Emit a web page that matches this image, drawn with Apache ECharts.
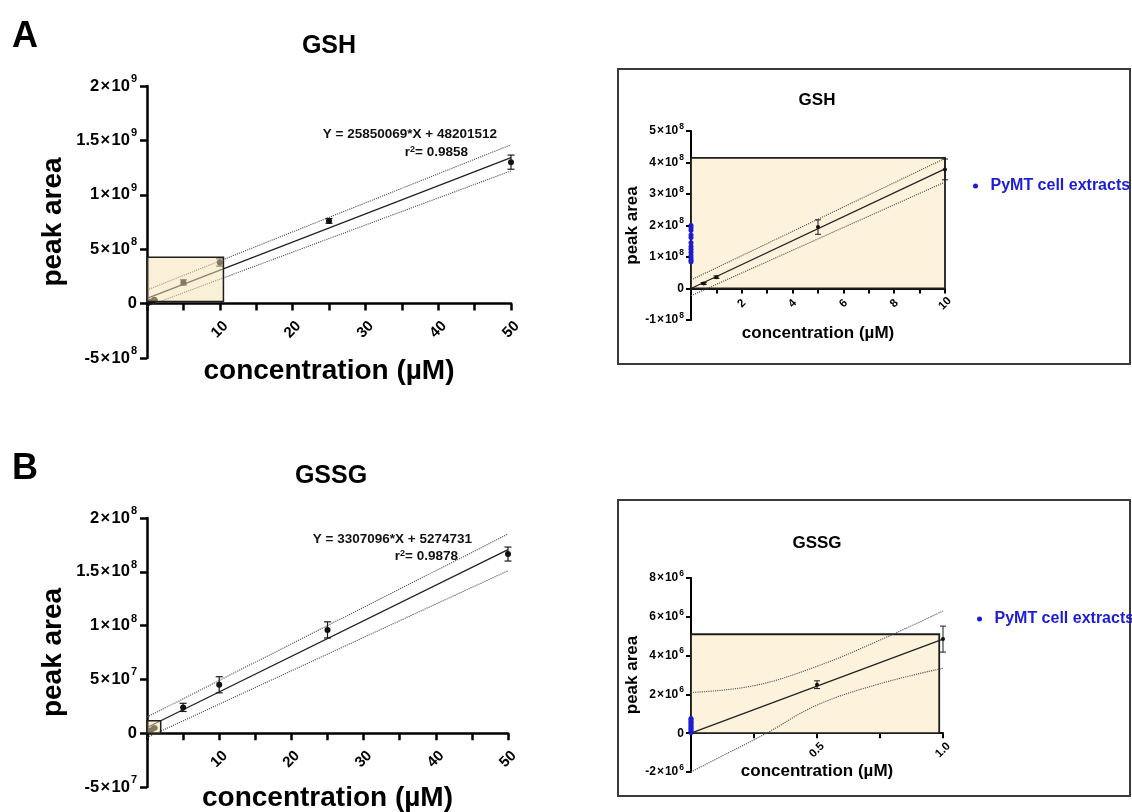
<!DOCTYPE html>
<html>
<head>
<meta charset="utf-8">
<script src="https://cdn.jsdelivr.net/npm/echarts@6/dist/echarts.min.js"></script>
<style>
  html, body { margin: 0; padding: 0; background: #fff; }
  #chart { width: 1132px; height: 812px; }
</style>
</head>
<body>
<div id="chart"></div>
<script>
// ---- GSH standard curve ----
const gshConc = [0.5, 1, 5, 10, 25, 50];
const gshArea = [1.6e7, 3.6e7, 1.95e8, 3.78e8, 7.6e8, 1.30e9];
const gshSd   = [0.3e7, 0.4e7, 2.3e7, 3.3e7, 2.2e7, 6.5e7];
const gshFit    = [[0, 48201512], [50, 1340704962]];      // Y = 25850069*X + 48201512
const gshBandHi = [[0, 1.25e8], [50, 1.46e9]];
const gshBandLo = [[0, -2.5e7], [50, 1.22e9]];
const gshLowFit    = [[0, 0], [10, 3.8e8]];
const gshLowBandHi = [[0, 2.7e7], [10, 4.13e8]];
const gshLowBandLo = [[0, -2.3e7], [10, 3.38e8]];
const gshCells = [2.0e8, 1.93e8, 1.85e8, 1.7e8, 1.62e8, 1.45e8, 1.33e8, 1.25e8, 1.15e8, 1.05e8, 0.97e8, 0.9e8, 0.85e8];
const gshZoomBox  = [[0, 2e7], [10.5, 4.25e8]];
const gshInsetBox = [[0, 0], [10, 4.15e8]];
const gshEquation = 'Y = 25850069*X + 48201512';
const gshR2 = '0.9858';

// ---- GSSG standard curve ----
const gssgConc = [0.5, 1, 5, 10, 25, 50];
const gssgArea = [2.5e6, 4.85e6, 2.4e7, 4.5e7, 9.6e7, 1.665e8];
const gssgSd   = [0.2e6, 0.67e6, 3.8e6, 7.5e6, 7.5e6, 6.5e6];
const gssgFit    = [[0, 5274731], [50, 170629531]];       // Y = 3307096*X + 5274731
const gssgBandHi = [[0, 1.5e7], [50, 1.85e8]];
const gssgBandLo = [[0, -4e6], [50, 1.51e8]];
const gssgLowFit    = [[0, 0], [1, 4.85e6]];
const gssgLowBandHi = [[0, 2.1e6], [0.25, 2.45e6], [0.5, 3.45e6], [0.75, 4.8e6], [1, 6.3e6]];
const gssgLowBandLo = [[0, -2.0e6], [0.15, -1.0e6], [0.3, 0.0], [0.5, 1.45e6], [0.75, 2.55e6], [1, 3.35e6]];
const gssgCells = [0.03e6, 0.1e6, 0.18e6, 0.25e6, 0.32e6, 0.4e6, 0.48e6, 0.55e6, 0.62e6, 0.7e6, 0.76e6];
const gssgZoomBox  = [[0, 0], [1.9, 1.15e7]];
const gssgInsetBox = [[0, 0], [0.985, 5.1e6]];
const gssgEquation = 'Y = 3307096*X + 5274731';
const gssgR2 = '0.9878';

const cellLabel = 'PyMT cell extracts';

const FONT = 'Liberation Sans, Arial, Helvetica, sans-serif';
const BLUE = '#1c1cd2';

// tick label as mantissa × 10 with a raised exponent
function sci(v) {
  if (v === 0) return '{b|0}';
  const e = Math.floor(Math.log10(Math.abs(v)) + 1e-9);
  const m = +(v / Math.pow(10, e)).toFixed(2);
  return '{b|' + m + '\u200A×\u200A10}{s|' + e + '}';
}

function points(xs, ys, maxX) {
  return xs.map((x, i) => [x, ys[i]]).filter(p => p[0] <= maxX);
}
function bars(xs, ys, sd, maxX) {
  return xs.map((x, i) => [x, ys[i] - sd[i], ys[i] + sd[i]]).filter(p => p[0] <= maxX);
}

function errorBar(capHalf, lw) {
  return function (params, api) {
    const x = api.value(0);
    const hi = api.coord([x, api.value(2)]);
    const lo = api.coord([x, api.value(1)]);
    const st = { stroke: '#1a1a1a', lineWidth: lw };
    return {
      type: 'group',
      children: [
        { type: 'line', shape: { x1: hi[0], y1: hi[1], x2: lo[0], y2: lo[1] }, style: st },
        { type: 'line', shape: { x1: hi[0] - capHalf, y1: hi[1], x2: hi[0] + capHalf, y2: hi[1] }, style: st },
        { type: 'line', shape: { x1: lo[0] - capHalf, y1: lo[1], x2: lo[0] + capHalf, y2: lo[1] }, style: st }
      ]
    };
  };
}

// The x axis sits at y = 0, lifted from the grid bottom by `lift` pixels.
function xAxis(grid, max, interval, labelFn, big, lift, nameGap, labelMargin) {
  return {
    gridIndex: grid, type: 'value', min: 0, max: max, interval: interval,
    position: 'bottom', offset: -lift,
    axisLine: { onZero: false, lineStyle: { color: '#000', width: big ? 2.5 : 2 } },
    axisTick: { length: big ? 7 : 5, lineStyle: { color: '#000', width: big ? 2.5 : 2 } },
    axisLabel: {
      interval: 0, rotate: 45, align: 'center', verticalAlign: 'middle',
      margin: labelMargin, formatter: labelFn,
      fontSize: big ? 15 : 11.5, fontWeight: 'bold', color: '#000', fontFamily: FONT
    },
    splitLine: { show: false },
    name: 'concentration (µM)', nameLocation: 'middle', nameGap: nameGap,
    nameTextStyle: { fontSize: big ? 28 : 17, fontWeight: 'bold', color: '#000', fontFamily: FONT }
  };
}

function yAxis(grid, min, max, interval, big) {
  const fs = big ? 16.5 : 12;
  const ss = big ? 11 : 8.5;
  const lift = big ? 4 : 3;
  return {
    gridIndex: grid, type: 'value', min: min, max: max, interval: interval,
    axisLine: { show: true, onZero: false, lineStyle: { color: '#000', width: big ? 2.5 : 2 } },
    axisTick: { show: true, length: big ? 7 : 5, lineStyle: { color: '#000', width: big ? 2.5 : 2 } },
    axisLabel: {
      formatter: sci, margin: big ? 10 : 7, color: '#000',
      rich: {
        b: { fontSize: fs, fontWeight: 'bold', color: '#000', fontFamily: FONT, verticalAlign: 'bottom', padding: [lift, 0, lift, 0] },
        s: { fontSize: ss, fontWeight: 'bold', color: '#000', fontFamily: FONT, verticalAlign: 'top', padding: [0, 0, 0, 1] }
      }
    },
    splitLine: { show: false },
    name: 'peak area', nameLocation: 'middle', nameRotate: 90, nameGap: big ? 80 : 50,
    nameTextStyle: { fontSize: big ? 28 : 17, fontWeight: 'bold', color: '#000', fontFamily: FONT }
  };
}

function lineSeries(idx, data, dotted, z) {
  return {
    type: 'line', xAxisIndex: idx, yAxisIndex: idx, data: data, symbol: 'none', silent: true, z: z || 3,
    lineStyle: dotted ? { color: '#4a4a4a', width: 1.1, type: 'dotted' } : { color: '#222', width: 1.3 }
  };
}

function boxArea(box, fill, overlay, bw) {
  return {
    silent: true, z: overlay ? 8 : 1,
    itemStyle: { color: fill, borderColor: '#1e1e1e', borderWidth: bw },
    data: [[{ coord: box[0] }, { coord: box[1] }]]
  };
}

function dots(idx, data, size, color, name) {
  const s = { type: 'scatter', xAxisIndex: idx, yAxisIndex: idx, data: data, symbolSize: size,
    itemStyle: { color: color, opacity: 1 }, z: name ? 6 : 5, silent: true };
  if (name) s.name = name;
  return s;
}

function errors(idx, data, cap, lw) {
  return { type: 'custom', xAxisIndex: idx, yAxisIndex: idx, renderItem: errorBar(cap, lw), data: data,
    encode: { x: 0, y: [1, 2] }, z: 4, silent: true };
}

const eqTitle = (text, x, y) => ({
  text: text, left: x, top: y, textAlign: 'right', padding: 0,
  textStyle: { fontSize: 13.5, fontWeight: 'bold', color: '#111', fontFamily: FONT,
    rich: { s: { fontSize: 9, fontWeight: 'bold', verticalAlign: 'top', color: '#111', fontFamily: FONT } } }
});
const headTitle = (text, x, y, size) => ({
  text: text, left: x, top: y, textAlign: 'center', padding: 0,
  textStyle: { fontSize: size, fontWeight: 'bold', color: '#000', fontFamily: FONT }
});
const legendAt = (x, y) => ({
  left: x, top: y, padding: 0, data: [cellLabel], icon: 'circle', itemWidth: 20, itemHeight: 5,
  selectedMode: false, textStyle: { color: BLUE, fontSize: 16, fontWeight: 'bold', fontFamily: FONT }
});

const option = {
  animation: false,
  textStyle: { fontFamily: FONT },
  title: [
    { text: 'A', left: 12, top: 19, padding: 0, textStyle: { fontSize: 36, fontWeight: 'bold', color: '#000', fontFamily: FONT } },
    { text: 'B', left: 12, top: 451, padding: 0, textStyle: { fontSize: 36, fontWeight: 'bold', color: '#000', fontFamily: FONT } },
    headTitle('GSH', 329, 34, 25),
    headTitle('GSSG', 331, 464, 25),
    headTitle('GSH', 817, 92, 17),
    headTitle('GSSG', 817, 535, 17),
    eqTitle(gshEquation, 497, 127),
    eqTitle('r{s|2}= ' + gshR2, 468, 145),
    eqTitle(gssgEquation, 472, 532),
    eqTitle('r{s|2}= ' + gssgR2, 458, 549)
  ],
  legend: [legendAt(973, 178), legendAt(977, 611)],
  graphic: [
    { type: 'rect', silent: true, shape: { x: 618, y: 69, width: 512, height: 295 }, style: { fill: 'none', stroke: '#3a3a3a', lineWidth: 2 } },
    { type: 'rect', silent: true, shape: { x: 618, y: 500, width: 512, height: 296 }, style: { fill: 'none', stroke: '#3a3a3a', lineWidth: 2 } }
  ],
  grid: [
    { left: 147, top: 86, width: 364, height: 272, outerBoundsMode: 'none' },
    { left: 691, top: 131, width: 254, height: 189, outerBoundsMode: 'none' },
    { left: 147, top: 518, width: 361, height: 269, outerBoundsMode: 'none' },
    { left: 691, top: 578, width: 252, height: 194, outerBoundsMode: 'none' }
  ],
  xAxis: [
    xAxis(0, 50, 5, v => (v > 0 && v % 10 === 0 ? String(v) : ''), true, 272 * 0.2, 54, 26),
    xAxis(1, 10, 1, v => (v > 0 && v % 2 === 0 ? String(v) : ''), false, 189 / 6, 36, 15),
    xAxis(2, 50, 5, v => (v > 0 && v % 10 === 0 ? String(v) : ''), true, 269 * 0.2, 51, 26),
    xAxis(3, 1, 0.25, v => (v === 0.5 || v === 1 ? v.toFixed(1) : ''), false, 194 * 0.2, 30, 17)
  ],
  yAxis: [
    yAxis(0, -5e8, 2e9, 5e8, true),
    yAxis(1, -1e8, 5e8, 1e8, false),
    yAxis(2, -5e7, 2e8, 5e7, true),
    yAxis(3, -2e6, 8e6, 2e6, false)
  ],
  series: [
    // A: full range
    Object.assign(lineSeries(0, gshFit, false), { markArea: boxArea(gshZoomBox, 'rgba(246,224,176,0.5)', true, 1.5) }),
    lineSeries(0, gshBandHi, true),
    lineSeries(0, gshBandLo, true),
    errors(0, bars(gshConc, gshArea, gshSd, 50), 3.5, 1.2),
    dots(0, points(gshConc, gshArea, 50), 6, '#111'),

    // A: low range
    Object.assign(lineSeries(1, gshLowFit, false), { markArea: boxArea(gshInsetBox, '#fdf2dc', false, 1.8) }),
    lineSeries(1, gshLowBandHi, true),
    lineSeries(1, gshLowBandLo, true),
    errors(1, bars(gshConc, gshArea, gshSd, 10), 3, 1),
    dots(1, points(gshConc, gshArea, 10), 4, '#111'),
    dots(1, gshCells.map(v => [0, v]), 5, BLUE, cellLabel),

    // B: full range
    Object.assign(lineSeries(2, gssgFit, false), { markArea: boxArea(gssgZoomBox, 'rgba(246,224,176,0.5)', true, 1.5) }),
    lineSeries(2, gssgBandHi, true),
    lineSeries(2, gssgBandLo, true),
    errors(2, bars(gssgConc, gssgArea, gssgSd, 50), 3.5, 1.2),
    dots(2, points(gssgConc, gssgArea, 50), 6, '#111'),

    // B: low range
    Object.assign(lineSeries(3, gssgLowFit, false), { markArea: boxArea(gssgInsetBox, '#fdf2dc', false, 1.8) }),
    Object.assign(lineSeries(3, gssgLowBandHi, true), { smooth: 0.4 }),
    Object.assign(lineSeries(3, gssgLowBandLo, true), { smooth: 0.4 }),
    errors(3, bars(gssgConc, gssgArea, gssgSd, 1), 3, 1),
    dots(3, points(gssgConc, gssgArea, 1), 4, '#111'),
    dots(3, gssgCells.map(v => [0, v]), 5, BLUE, cellLabel)
  ]
};

const chart = echarts.init(document.getElementById('chart'), null, { renderer: 'canvas' });
chart.setOption(option);
</script>
</body>
</html>
